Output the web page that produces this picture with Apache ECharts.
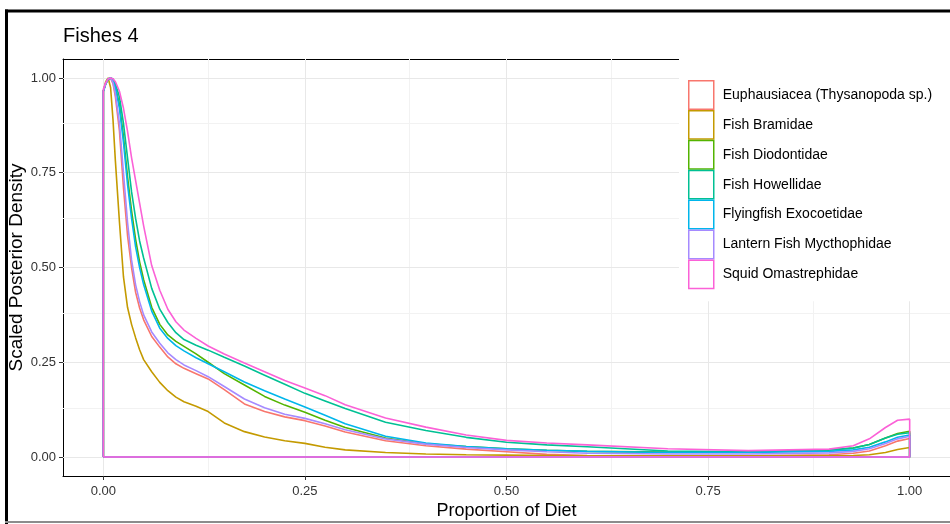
<!DOCTYPE html>
<html>
<head>
<meta charset="utf-8">
<script src="https://cdn.jsdelivr.net/npm/echarts@6/dist/echarts.min.js"></script>
<style>
  html, body { margin: 0; padding: 0; background: #fff; }
  #chart { width: 950px; height: 524px; }
</style>
</head>
<body>
<div id="chart"></div>
<script>
// Proportion-of-diet grid shared by every density curve
const xs = [0, 0.003, 0.006, 0.009, 0.012, 0.015, 0.02, 0.025, 0.03, 0.035, 0.04, 0.045, 0.05, 0.06, 0.07, 0.08, 0.09, 0.1, 0.115, 0.13, 0.15, 0.175, 0.2, 0.225, 0.25, 0.275, 0.3, 0.35, 0.4, 0.45, 0.5, 0.55, 0.6, 0.7, 0.8, 0.9, 0.93, 0.95, 0.97, 0.985, 1];

// Scaled posterior density for each prey group
const euphausiacea = [0.965, 0.985, 0.998, 1.0, 0.985, 0.95, 0.86, 0.71, 0.585, 0.5, 0.435, 0.393, 0.362, 0.318, 0.29, 0.264, 0.246, 0.234, 0.22, 0.206, 0.178, 0.14, 0.12, 0.106, 0.096, 0.082, 0.066, 0.043, 0.03, 0.021, 0.014, 0.007, 0.004, 0.003, 0.003, 0.006, 0.01, 0.016, 0.03, 0.042, 0.049];
const bramidae = [0.965, 0.99, 1.0, 0.975, 0.89, 0.78, 0.62, 0.475, 0.395, 0.35, 0.315, 0.283, 0.257, 0.225, 0.197, 0.175, 0.158, 0.146, 0.134, 0.12, 0.09, 0.067, 0.053, 0.043, 0.036, 0.026, 0.019, 0.012, 0.008, 0.006, 0.005, 0.004, 0.003, 0.003, 0.003, 0.003, 0.004, 0.006, 0.012, 0.02, 0.025];
const diodontidae = [0.965, 0.985, 0.997, 1.0, 0.993, 0.977, 0.93, 0.845, 0.74, 0.65, 0.575, 0.515, 0.468, 0.395, 0.35, 0.322, 0.305, 0.292, 0.272, 0.25, 0.22, 0.19, 0.16, 0.137, 0.118, 0.097, 0.078, 0.05, 0.035, 0.028, 0.022, 0.018, 0.015, 0.013, 0.014, 0.018, 0.024, 0.033, 0.05, 0.062, 0.068];
const howellidae = [0.965, 0.985, 0.996, 1.0, 0.997, 0.985, 0.95, 0.88, 0.79, 0.7, 0.63, 0.57, 0.525, 0.445, 0.39, 0.355, 0.328, 0.31, 0.295, 0.282, 0.263, 0.24, 0.216, 0.192, 0.168, 0.148, 0.128, 0.092, 0.07, 0.052, 0.039, 0.032, 0.027, 0.016, 0.014, 0.019, 0.024, 0.033, 0.05, 0.06, 0.064];
const exocoetidae = [0.965, 0.985, 0.997, 1.0, 0.993, 0.975, 0.92, 0.83, 0.72, 0.63, 0.555, 0.5, 0.455, 0.385, 0.34, 0.313, 0.294, 0.28, 0.262, 0.246, 0.225, 0.198, 0.175, 0.153, 0.132, 0.11, 0.088, 0.055, 0.037, 0.028, 0.022, 0.018, 0.015, 0.012, 0.012, 0.015, 0.019, 0.026, 0.04, 0.052, 0.058];
const mycthophidae = [0.965, 0.985, 0.998, 1.0, 0.988, 0.958, 0.88, 0.75, 0.62, 0.52, 0.455, 0.41, 0.375, 0.33, 0.30, 0.275, 0.257, 0.243, 0.228, 0.212, 0.186, 0.153, 0.13, 0.113, 0.102, 0.088, 0.072, 0.048, 0.034, 0.025, 0.019, 0.014, 0.01, 0.008, 0.008, 0.011, 0.015, 0.022, 0.036, 0.048, 0.055];
const omastrephidae = [0.97, 0.988, 0.997, 1.0, 0.998, 0.99, 0.965, 0.92, 0.86, 0.79, 0.73, 0.67, 0.61, 0.505, 0.44, 0.39, 0.357, 0.335, 0.313, 0.293, 0.272, 0.248, 0.225, 0.202, 0.182, 0.162, 0.138, 0.103, 0.079, 0.058, 0.044, 0.037, 0.032, 0.022, 0.017, 0.021, 0.03, 0.048, 0.078, 0.097, 0.1];

const groupNames = [
  'Euphausiacea (Thysanopoda sp.)',
  'Fish Bramidae',
  'Fish Diodontidae',
  'Fish Howellidae',
  'Flyingfish Exocoetidae',
  'Lantern Fish Mycthophidae',
  'Squid Omastrephidae'
];
const groupValues = [euphausiacea, bramidae, diodontidae, howellidae, exocoetidae, mycthophidae, omastrephidae];
const groupColors = ['#F8766D', '#C49A00', '#53B400', '#00C094', '#00B6EB', '#A58AFF', '#FB61D7'];

// Axis breaks
const majorTicks = [0, 0.25, 0.5, 0.75, 1];
const minorTicks = [0.125, 0.375, 0.625, 0.875];

const FONT = "'Liberation Sans', Arial, sans-serif";

// Each density is drawn as a closed outline: up from the baseline at 0,
// along the curve, down at 1 and back along the baseline.
function outline(values) {
  const pts = [[0, 0]];
  xs.forEach((x, i) => pts.push([x, values[i]]));
  pts.push([1, 0]);
  pts.push([0, 0]);
  return pts;
}

const gridLines = {
  name: 'grid-lines',
  type: 'line',
  data: [],
  z: 1,
  silent: true,
  markLine: {
    silent: true,
    z: 1,
    symbol: ['none', 'none'],
    label: { show: false },
    emphasis: { disabled: true },
    animation: false,
    data: [
      ...minorTicks.map(v => ({ xAxis: v, lineStyle: { color: '#f2f2f2', width: 1, type: 'solid' } })),
      ...minorTicks.map(v => ({ yAxis: v, lineStyle: { color: '#f2f2f2', width: 1, type: 'solid' } })),
      ...majorTicks.map(v => ({ xAxis: v, lineStyle: { color: '#e8e8e8', width: 1, type: 'solid' } })),
      ...majorTicks.map(v => ({ yAxis: v, lineStyle: { color: '#e8e8e8', width: 1, type: 'solid' } }))
    ]
  }
};

const curveSeries = groupNames.map((name, i) => ({
  name: name,
  type: 'line',
  data: outline(groupValues[i]),
  showSymbol: false,
  symbol: 'none',
  smooth: false,
  z: 3,
  lineStyle: { color: groupColors[i], width: 1.6 },
  itemStyle: { color: groupColors[i] },
  emphasis: { disabled: true }
}));

const axisLabelStyle = {
  customValues: majorTicks,
  fontFamily: FONT,
  fontSize: 13,
  color: '#333',
  formatter: v => v.toFixed(2)
};

const chart = echarts.init(document.getElementById('chart'), null, { renderer: 'canvas' });

chart.setOption({
  animation: false,
  backgroundColor: '#fff',
  textStyle: { fontFamily: FONT },
  title: {
    text: 'Fishes 4',
    left: 63,
    top: 26,
    padding: 0,
    textStyle: { fontFamily: FONT, fontSize: 20, fontWeight: 'normal', color: '#000' }
  },
  grid: {
    left: 63,
    right: 0,
    top: 59,
    bottom: 48,
    containLabel: false,
    outerBoundsMode: 'none',
    show: false
  },
  legend: {
    orient: 'vertical',
    left: 679,
    top: 55,
    z: 10,
    padding: [25, 40, 12, 9],
    backgroundColor: '#fff',
    itemWidth: 25,
    itemHeight: 28.4,
    itemGap: 0,
    icon: 'rect',
    selectedMode: false,
    textStyle: { fontFamily: FONT, fontSize: 14, color: '#000', padding: [0, 0, 0, 4] },
    data: groupNames.map((name, i) => ({
      name: name,
      icon: 'rect',
      itemStyle: { color: 'transparent', borderColor: groupColors[i], borderWidth: 1.5 }
    }))
  },
  xAxis: [
    {
      type: 'value',
      min: -0.05,
      max: 1.05,
      position: 'bottom',
      name: 'Proportion of Diet',
      nameLocation: 'middle',
      nameGap: 26,
      nameMoveOverlap: false,
      nameTextStyle: { fontFamily: FONT, fontSize: 18, color: '#000' },
      axisLine: { show: true, onZero: false, lineStyle: { color: '#000', width: 1 } },
      axisTick: { show: true, length: 4, customValues: majorTicks, lineStyle: { color: '#333' } },
      axisLabel: Object.assign({ margin: 9 }, axisLabelStyle),
      splitLine: { show: false },
      minorSplitLine: { show: false }
    },
    {
      // plain upper border of the panel
      type: 'value',
      min: -0.05,
      max: 1.05,
      position: 'top',
      axisLine: { show: true, onZero: false, lineStyle: { color: '#000', width: 1 } },
      axisTick: { show: false },
      axisLabel: { show: false },
      splitLine: { show: false }
    }
  ],
  yAxis: {
    type: 'value',
    min: -0.05,
    max: 1.05,
    name: 'Scaled Posterior Density',
    nameLocation: 'middle',
    nameGap: 37,
    nameMoveOverlap: false,
    nameRotate: 90,
    nameTextStyle: { fontFamily: FONT, fontSize: 19, color: '#000' },
    axisLine: { show: true, onZero: false, lineStyle: { color: '#000', width: 1 } },
    axisTick: { show: true, length: 4, customValues: majorTicks, lineStyle: { color: '#333' } },
    axisLabel: Object.assign({ margin: 7 }, axisLabelStyle),
    splitLine: { show: false },
    minorSplitLine: { show: false }
  },
  graphic: [
    { type: 'line', silent: true, z: 100, shape: { x1: 6.5, y1: 9.5, x2: 6.5, y2: 524 }, style: { stroke: '#000', lineWidth: 3 } },
    { type: 'line', silent: true, z: 100, shape: { x1: 5, y1: 11, x2: 950, y2: 11 }, style: { stroke: '#000', lineWidth: 3 } },
    { type: 'line', silent: true, z: 100, shape: { x1: 5, y1: 522, x2: 950, y2: 522 }, style: { stroke: '#8c8c8c', lineWidth: 2 } }
  ],
  series: [gridLines, ...curveSeries]
});
</script>
</body>
</html>
